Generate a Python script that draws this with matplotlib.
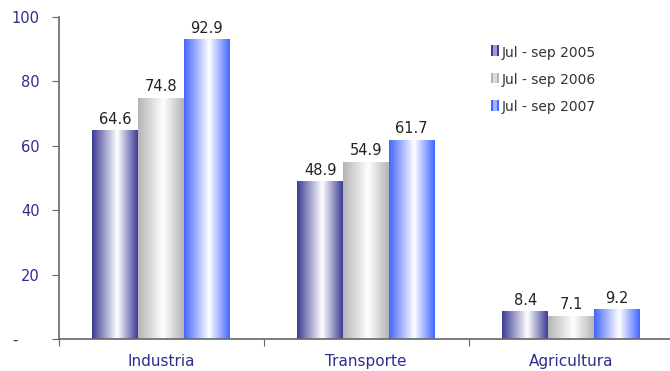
import numpy as np
import matplotlib
matplotlib.use("Agg")
import matplotlib.pyplot as plt
from matplotlib.colors import LinearSegmentedColormap, to_rgb
from matplotlib.patches import Rectangle
from matplotlib.legend_handler import HandlerBase
from matplotlib.transforms import ScaledTranslation

# datos
categorias = ["Industria", "Transporte", "Agricultura"]
series = ["Jul - sep 2005", "Jul - sep 2006", "Jul - sep 2007"]
v2005 = [64.6, 48.9, 8.4]
v2006 = [74.8, 54.9, 7.1]
v2007 = [92.9, 61.7, 9.2]
valores = [v2005, v2006, v2007]
yticks = [0, 20, 40, 60, 80, 100]
ylabels = ["-", "20", "40", "60", "80", "100"]

colores = ["#3c3c96", "#b4b4b4", "#4466ff"]
azul_txt = "#2e2e8e"

plt.rcParams['font.family'] = ['DejaVu Sans']


class GradHandler(HandlerBase):
    # cuadrito de leyenda con bandas de color
    def create_artists(self, legend, orig, xd, yd, width, height, fontsize, trans):
        c = np.array(to_rgb(orig.get_facecolor()))
        arts = []
        n = 4
        for k in range(n):
            t = abs(k / (n - 1) - 0.5) * 2
            col = 1 - (1 - c) * (0.25 + 0.75 * t)
            r = Rectangle((xd + k * width / n, yd), width / n, height,
                          facecolor=col, edgecolor="none", transform=trans)
            arts.append(r)
        return arts


fig = plt.figure(figsize=(6.7, 3.71), dpi=100)
ax = fig.add_axes([58.5 / 670, 32 / 371, 615 / 670, 322 / 371])

x = np.arange(len(categorias))
w = 0.223
grad = np.linspace(0, 1, 256).reshape(1, -1)

handles = []
for i, (vals, c) in enumerate(zip(valores, colores)):
    pos = x + (i - 1) * w
    bars = ax.bar(pos, vals, width=w, color=c, edgecolor="none", zorder=1)
    handles.append(bars[0])
    cmap = LinearSegmentedColormap.from_list("g%d" % i, [(0, c), (0.55, "white"), (1, c)])
    for b, v in zip(bars, vals):
        x0, bw, h = b.get_x(), b.get_width(), b.get_height()
        ax.imshow(grad, cmap=cmap, extent=[x0, x0 + bw, 0, h], aspect="auto",
                  interpolation="bilinear", zorder=2)
        ax.text(x0 + bw / 2, h + 1.2, f"{v:.1f}", ha="center", va="bottom",
                fontsize=10.5, color="#222222")

ax.set_xlim(-0.5, 2.5)
ax.set_ylim(0, 100)

ax.set_yticks(yticks)
ax.set_yticklabels(ylabels, color=azul_txt, fontsize=10.5)
ax.set_xticks([-0.5, 0.5, 1.5])
ax.set_xticklabels([])
ax.set_xticks(x, minor=True)
ax.set_xticklabels(categorias, minor=True, color=azul_txt, fontsize=11)
ax.tick_params(axis="x", which="major", length=5, color="#666666", direction="out")
ax.tick_params(axis="x", which="minor", length=0, pad=11)
ax.tick_params(axis="y", length=5, color="#666666", pad=8.5)

# el "-" del cero va mas a la izquierda
lbl0 = ax.get_yticklabels()[0]
lbl0.set_transform(lbl0.get_transform() + ScaledTranslation(-0.22, 0, fig.dpi_scale_trans))

for s in ["top", "right"]:
    ax.spines[s].set_visible(False)
for s in ["left", "bottom"]:
    ax.spines[s].set_color("#666666")
    ax.spines[s].set_linewidth(1.2)

ax.legend(handles, series, loc="upper left", bbox_to_anchor=(0.683, 0.95),
          frameon=False, fontsize=10, handlelength=0.6, handleheight=0.8,
          handletextpad=0.15, labelspacing=0.95, labelcolor="#333333",
          handler_map={type(handles[0]): GradHandler()})

fig.savefig("out.png", dpi=100)
